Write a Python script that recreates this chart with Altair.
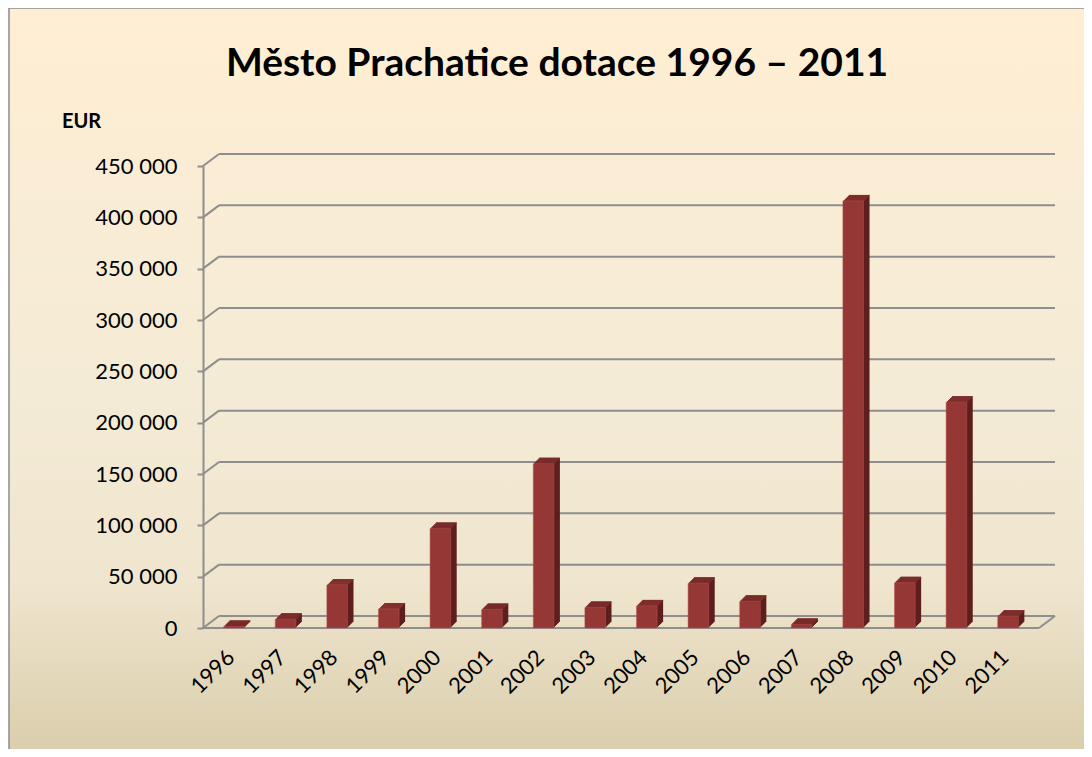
import altair as alt
import pandas as pd

years = ["1996", "1997", "1998", "1999", "2000", "2001", "2002", "2003",
         "2004", "2005", "2006", "2007", "2008", "2009", "2010", "2011"]
values = [1500, 8500, 42000, 18500, 97000, 18000, 160000, 20000,
          21500, 43500, 26000, 3500, 416000, 44000, 220000, 11500]
y_ticks = [0, 50000, 100000, 150000, 200000, 250000, 300000, 350000, 400000, 450000]

title_text = "Město Prachatice dotace 1996 – 2011"
unit_text = "EUR"

W, H = 836, 462
PAD_L, PAD_T = 195, 158
TOTAL_W, TOTAL_H = 1076, 741
DX, DY = 16, -12
DEPTH = 6
FONT = "Lato"
GRID = "#8E8E8E"
FRONT = "#953735"
SIDE = "#5E1F1E"
TOP = "#82302E"

bars = pd.DataFrame({"year": years, "v": values})
ticks = pd.DataFrame({"v": y_ticks})

xs = alt.Scale(domain=years, paddingInner=0.6, paddingOuter=0.4)
ys = alt.Scale(domain=[0, 450000], nice=False)

x_axis = alt.Axis(title=None, domain=False, ticks=False, labels=False, zindex=2)
y_axis = alt.Axis(
    title=None, values=y_ticks, grid=False, domainColor=GRID, domainWidth=2,
    tickColor=GRID, tickWidth=2, tickSize=6, labelFontSize=22, labelFont=FONT,
    labelColor="#000000", labelPadding=20, zindex=2,
    labelExpr="datum.value == 0 ? '0' : format(datum.value / 1000, 'd') + ' 000'")


def X():
    return alt.X("year:N", scale=xs, sort=years, axis=x_axis)


def Y():
    return alt.Y("v:Q", scale=ys, axis=y_axis)


bg = alt.Chart(pd.DataFrame({"a": [0]})).mark_rect(
    fill=alt.Gradient(
        gradient="linear",
        stops=[alt.GradientStop(color="#FFEED3", offset=0),
               alt.GradientStop(color="#F4EBD6", offset=0.5),
               alt.GradientStop(color="#F0E6CF", offset=0.75),
               alt.GradientStop(color="#D8CBA9", offset=1)],
        x1=0, x2=0, y1=0, y2=1),
    stroke="#8C8C8C", strokeWidth=1.5,
).encode(
    x=alt.value(-(PAD_L - 1)), x2=alt.value(TOTAL_W - PAD_L + 20),
    y=alt.value(-PAD_T), y2=alt.value(TOTAL_H - PAD_T + 20),
)

grid = alt.Chart(ticks).mark_rule(color=GRID, strokeWidth=2, yOffset=DY).encode(
    y=Y(), x=alt.value(DX), x2=alt.value(W + DX),
)

diag = alt.Chart(ticks).mark_rule(color=GRID, strokeWidth=2, y2Offset=DY).encode(
    y=Y(), y2="v:Q", x=alt.value(0), x2=alt.value(DX),
)

zero = pd.DataFrame({"v": [0]})
floor_front = alt.Chart(zero).mark_rule(color=GRID, strokeWidth=2).encode(
    y=Y(), x=alt.value(0), x2=alt.value(W),
)
floor_right = alt.Chart(zero).mark_rule(color=GRID, strokeWidth=2, y2Offset=DY).encode(
    y=Y(), y2="v:Q", x=alt.value(W), x2=alt.value(W + DX),
)

layers = [bg, grid, diag, floor_front, floor_right]

for k in range(DEPTH, 0, -1):
    layers.append(
        alt.Chart(bars).mark_bar(color=SIDE, xOffset=k, yOffset=-k, y2Offset=-k).encode(
            x=X(), y=Y(), y2=alt.datum(0),
        )
    )
for k in range(DEPTH, 0, -1):
    layers.append(
        alt.Chart(bars).mark_bar(color=TOP, xOffset=k, yOffset=-k, y2Offset=-k + 1).encode(
            x=X(), y=Y(), y2="v:Q",
        )
    )

front = alt.Chart(bars).mark_bar(color=FRONT, stroke="#B8544F", strokeWidth=0.5).encode(
    x=X(), y=Y(), y2=alt.datum(0),
)
layers.append(front)

xlabels = alt.Chart(bars).mark_text(
    font=FONT, fontSize=22, angle=315, align="right", baseline="middle",
    color="#000000", xOffset=-3,
).encode(x=X(), y=alt.value(H + 26), text="year:N")
layers.append(xlabels)

title = alt.Chart(pd.DataFrame({"s": [title_text]})).mark_text(
    font=FONT, fontSize=39, fontWeight="bold", align="center", baseline="alphabetic", color="#000000"
).encode(text="s:N", x=alt.value(557 - 203), y=alt.value(76 - 166))

unit = alt.Chart(pd.DataFrame({"s": [unit_text]})).mark_text(
    font=FONT, fontSize=20, fontWeight="bold", align="left", baseline="alphabetic", color="#000000"
).encode(text="s:N", x=alt.value(62 - 203), y=alt.value(128 - 166))

layers += [title, unit]

chart = alt.layer(*layers).properties(
    width=W, height=H,
    autosize=alt.AutoSizeParams(type="none"),
    padding={"left": PAD_L, "top": PAD_T, "right": TOTAL_W - PAD_L - W, "bottom": TOTAL_H - PAD_T - H},
).configure_view(stroke=None).configure(background="#FFFFFF")

chart.save("out.html", embed_options={"renderer": "svg", "actions": False})
